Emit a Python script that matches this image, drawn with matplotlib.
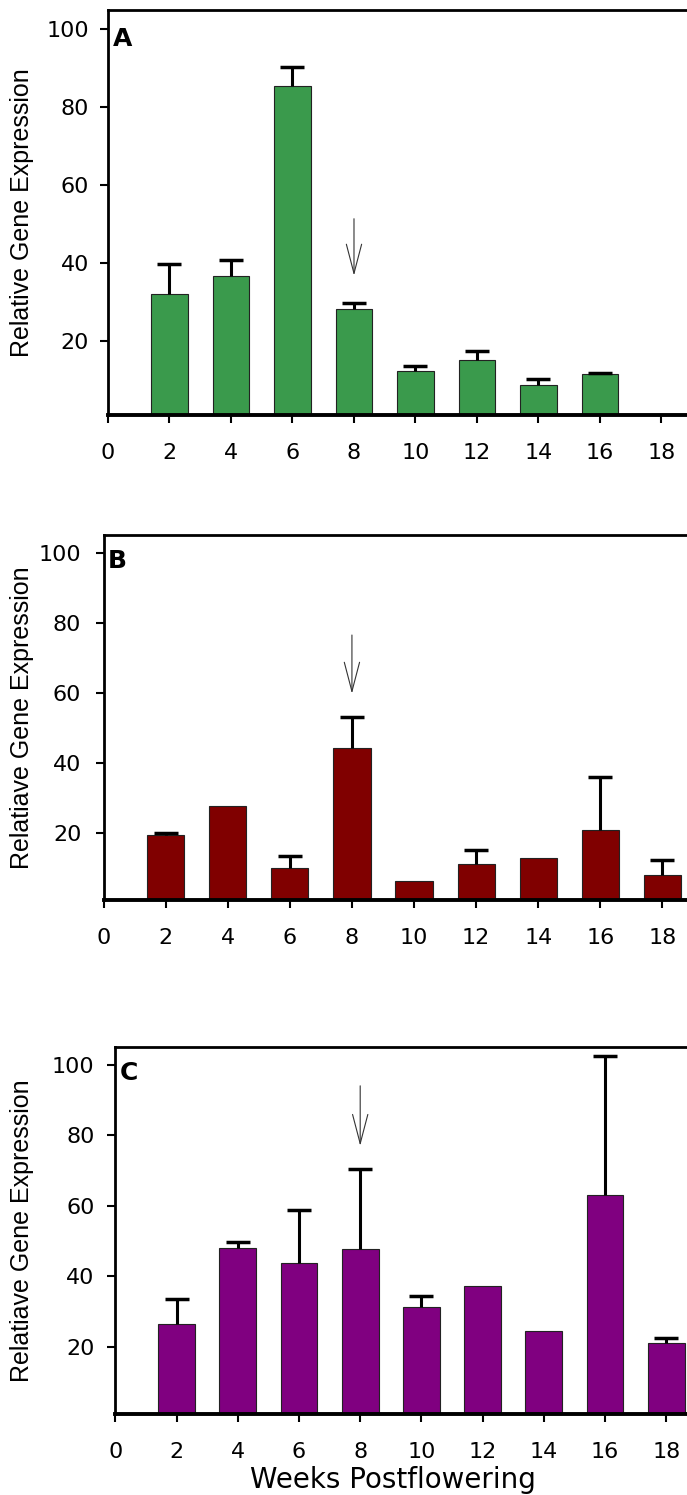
import matplotlib
matplotlib.use("Agg")
import matplotlib.pyplot as plt
import numpy as np

weeks = [2, 4, 6, 8, 10, 12, 14, 16, 18]
x_ticks = [0, 2, 4, 6, 8, 10, 12, 14, 16, 18]
y_ticks = [20, 40, 60, 80, 100]

# Panel A
a_vals = [32.1, 36.8, 85.6, 28.2, 12.4, 15.2, 8.8, 11.4, np.nan]
a_err = [7.8, 4.0, 4.7, 1.5, 1.1, 2.2, 1.5, 0.5, np.nan]
# Panel B
b_vals = [19.6, 27.9, 10.0, 44.4, 6.5, 11.3, 12.9, 20.9, 8.1]
b_err = [0.6, 0.0, 3.5, 8.8, 0.0, 4.0, 0.0, 15.2, 4.3]
# Panel C
c_vals = [26.5, 47.9, 43.8, 47.8, 31.4, 37.2, 24.6, 63.0, 21.1]
c_err = [7.2, 1.8, 15.0, 22.7, 2.9, 0.0, 0.0, 39.4, 1.5]

panel_letters = ["A", "B", "C"]
ylabels = ["Relative Gene Expression", "Relatiave Gene Expression", "Relatiave Gene Expression"]
xlabel = "Weeks Postflowering"
colors = ["#3A9A4C", "#800000", "#800080"]
# arrow: (x, y_start, y_tip)
arrows = [(8, 51.4, 36.8), (8, 76.5, 59.8), (8, 94.0, 77.0)]

W, H = 687, 1495
fig = plt.figure(figsize=(W / 100, H / 100), dpi=100)

# axes boxes in pixels: left, top, bottom
boxes = [(108, 10, 415), (103.5, 535, 900), (115.4, 1047, 1414)]
xmaxs = [18.83, 18.79, 18.68]
ypads = [7.5, 10, 9]

data = [(a_vals, a_err), (b_vals, b_err), (c_vals, c_err)]
for i, ((vals, errs), (l, t, b)) in enumerate(zip(data, boxes)):
    ax = fig.add_axes([l / W, 1 - b / H, (W - l) / W, (b - t) / H])
    v = np.array(vals, dtype=float)
    e = np.array(errs, dtype=float)
    ax.bar(weeks, v, width=1.2, color=colors[i], edgecolor="#222222",
           linewidth=0.8, zorder=2)
    mask = np.nan_to_num(e) > 0
    cont = ax.errorbar(np.array(weeks)[mask], v[mask],
                       yerr=[np.zeros(mask.sum()), e[mask]],
                       fmt="none", ecolor="black", elinewidth=2.2, capsize=8.5,
                       capthick=2.5, zorder=3)
    caps = cont[1]
    if len(caps) == 2:
        caps[0].set_visible(False)
    ax.set_xlim(0, xmaxs[i])
    ax.set_ylim(1, 105)
    ax.set_xticks(x_ticks)
    ax.set_yticks(y_ticks)
    ax.tick_params(axis="both", direction="out", length=6, width=1.5,
                   labelsize=16)
    ax.tick_params(axis="x", pad=14)
    ax.tick_params(axis="y", pad=ypads[i])
    for lab in ax.get_xticklabels() + ax.get_yticklabels():
        lab.set_family("DejaVu Sans")
    ax.spines["right"].set_visible(False)
    ax.spines["left"].set_linewidth(2)
    ax.spines["top"].set_linewidth(2)
    ax.spines["bottom"].set_linewidth(2.8)
    ax.set_ylabel(ylabels[i], fontsize=18, family="Liberation Sans")
    ax.yaxis.set_label_coords((34 - l) / (W - l), 0.5)
    ax.text(0.15, 97.5, panel_letters[i], fontsize=18, fontweight="bold",
            family="DejaVu Sans", ha="left", va="center")
    xa, y0, y1 = arrows[i]
    ax.annotate("", xy=(xa, y1), xytext=(xa, y0),
                arrowprops=dict(arrowstyle="->,head_length=2.1,head_width=0.55",
                                lw=0.8, color="#333333", mutation_scale=10,
                                shrinkA=0, shrinkB=0))
    if i == 2:
        ax.set_xlabel(xlabel, fontsize=20, family="DejaVu Sans")
        ax.xaxis.set_label_coords((393 - l) / (W - l), -(1480 - b) / (b - t))
        ax.xaxis.label.set_va("center")

fig.savefig("out.png", dpi=100)
